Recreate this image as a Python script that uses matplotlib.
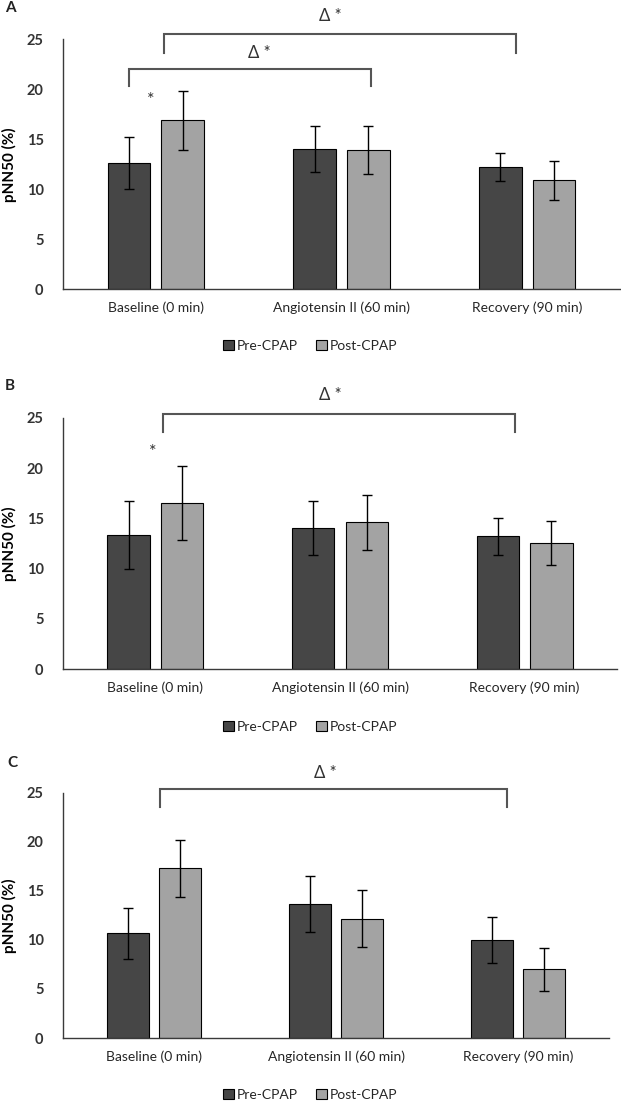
import numpy as np
import matplotlib
matplotlib.use("Agg")
import matplotlib.pyplot as plt

plt.rcParams['font.family'] = ['Lato', 'DejaVu Sans']

categories = ['Baseline (0 min)', 'Angiotensin II (60 min)', 'Recovery (90 min)']
series_names = ['Pre-CPAP', 'Post-CPAP']
yticks = [0, 5, 10, 15, 20, 25]

# panel A
a_pre = [12.65, 14.0, 12.2]
a_pre_err = [2.6, 2.3, 1.4]
a_post = [16.9, 13.9, 10.9]
a_post_err = [2.95, 2.4, 1.95]
# panel B
b_pre = [13.35, 14.05, 13.2]
b_pre_err = [3.4, 2.7, 1.8]
b_post = [16.5, 14.6, 12.55]
b_post_err = [3.7, 2.75, 2.2]
# panel C
c_pre = [10.7, 13.7, 10.0]
c_pre_err = [2.6, 2.85, 2.35]
c_post = [17.3, 12.15, 7.0]
c_post_err = [2.9, 2.9, 2.2]

# significance brackets: (x0, x1, y_top, y_drop, text_x, text_y)
a_brackets = [(0.044, 1.94, 25.5, 23.6, 0.94, 27.3), (-0.145, 1.16, 22.0, 20.3, 0.56, 23.6)]
a_star = (-0.03, 18.9)
b_brackets = [(0.044, 1.95, 25.35, 23.6, 0.95, 27.3)]
b_star = (-0.015, 21.6)
c_brackets = [(0.035, 1.94, 25.35, 23.5, 0.94, 27.0)]
c_star = None

PRE_COL = '#464646'
POST_COL = '#a3a3a3'
TXT = '#262626'

W, H = 621, 1101
fig = plt.figure(figsize=(W / 100, H / 100), dpi=100)


def px_axes(left, right, top, bottom):
    ax = fig.add_axes([left / W, 1 - bottom / H, (right - left) / W, (bottom - top) / H])
    ax._w_px = right - left
    return ax


def draw_panel(ax, pre, pre_err, post, post_err, brackets, star):
    x = np.arange(len(categories))
    w = 0.23
    off = 0.145
    ek = dict(ecolor='black', elinewidth=1.0, capsize=3.5, capthick=1.0)
    ax.bar(x - off, pre, w, yerr=pre_err, color=PRE_COL, edgecolor='black', linewidth=0.8,
           error_kw=ek, label=series_names[0], zorder=2)
    ax.bar(x + off, post, w, yerr=post_err, color=POST_COL, edgecolor='black', linewidth=0.8,
           error_kw=ek, label=series_names[1], zorder=2)
    ax.set_xlim(-0.5, 2.5)
    ax.set_ylim(0, 25)
    ax.set_yticks(yticks)
    ax.set_yticklabels([str(t) for t in yticks], fontsize=10.5, fontweight='bold', color='#333333')
    ax.set_xticks(x)
    ax.set_xticklabels(categories, fontsize=10, color=TXT)
    ax.tick_params(axis='both', length=0)
    ax.tick_params(axis='y', pad=14)
    ax.tick_params(axis='x', pad=9)
    for s in ['top', 'right']:
        ax.spines[s].set_visible(False)
    for s in ['left', 'bottom']:
        ax.spines[s].set_color('#3a3a3a')
        ax.spines[s].set_linewidth(1.0)
    ax.set_ylabel('pNN50 (%)', fontsize=11, fontweight='bold', color='black')
    ax.yaxis.set_label_coords(-46 / ax._w_px, 0.5)
    for x0, x1, yt, yd, tx, ty in brackets:
        ax.plot([x0, x0, x1, x1], [yd, yt, yt, yd], color='#555555', lw=1.5, clip_on=False,
                solid_joinstyle='miter')
        ax.text(tx, ty, '\u0394 *', ha='center', va='center', fontsize=12, color='#333333')
    if star is not None:
        ax.text(star[0], star[1], '*', ha='center', va='center', fontsize=13, color='#333333')


axA = px_axes(63, 620, 39.3, 289.3)
draw_panel(axA, a_pre, a_pre_err, a_post, a_post_err, a_brackets, a_star)
axB = px_axes(63, 617, 417.7, 669.3)
draw_panel(axB, b_pre, b_pre_err, b_post, b_post_err, b_brackets, b_star)
axC = px_axes(63, 609, 792.7, 1038)
draw_panel(axC, c_pre, c_pre_err, c_post, c_post_err, c_brackets, c_star)

for lab, ly, lx in [('A', 8, 10), ('B', 386, 10), ('C', 763, 12)]:
    fig.text(lx / W, 1 - ly / H, lab, ha='center', va='center', fontsize=11, fontweight='bold', color='#222222')

for ax, ly in [(axA, 346), (axB, 727), (axC, 1095)]:
    h, l = ax.get_legend_handles_labels()
    fig.legend(h, l, loc='center', bbox_to_anchor=(0.5, 1 - ly / H), ncol=2, frameon=False,
               fontsize=10, handlelength=0.75, handleheight=0.75, handletextpad=0.25,
               columnspacing=1.3, labelcolor=TXT)

fig.savefig('out.png', dpi=100)
